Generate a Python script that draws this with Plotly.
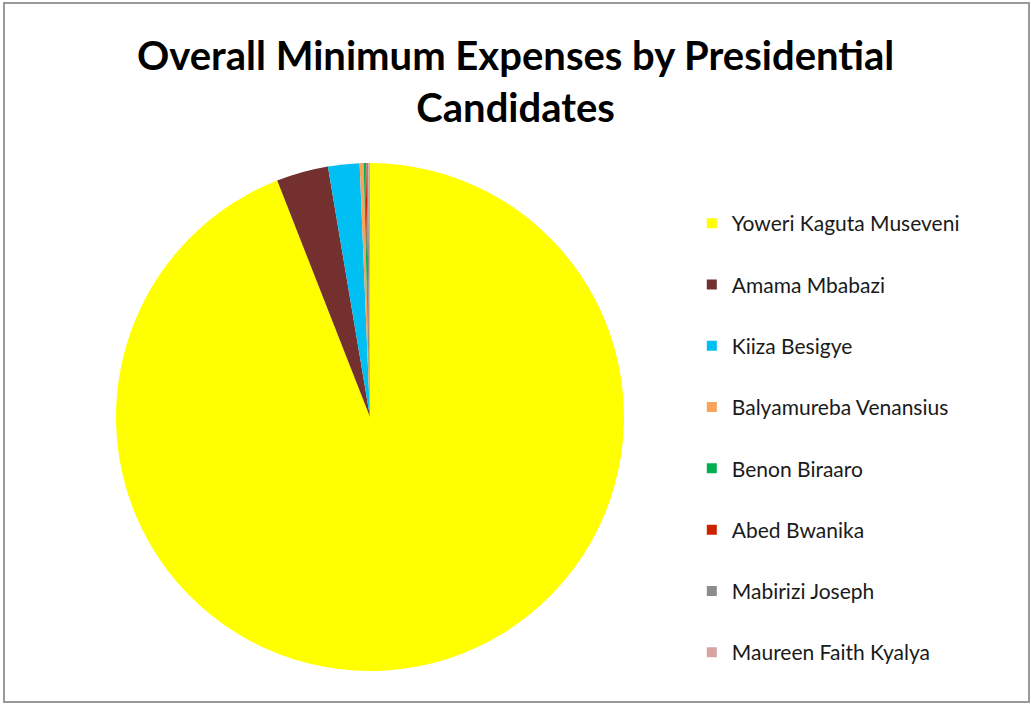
import plotly.graph_objects as go

candidates = ["Yoweri Kaguta Museveni", "Amama Mbabazi", "Kiiza Besigye",
              "Balyamureba Venansius", "Benon Biraaro", "Abed Bwanika",
              "Mabirizi Joseph", "Maureen Faith Kyalya"]
# approximate share of overall minimum expenses (%)
expenses = [94.05, 3.30, 2.00, 0.25, 0.10, 0.08, 0.12, 0.10]
colors = ["#FFFF00", "#74302F", "#00BFF3", "#F9A25A", "#00B050",
          "#CC2200", "#8C8C8C", "#D9A3A3"]
title_text = "Overall Minimum Expenses by Presidential<br>Candidates"

fig = go.Figure()
fig.add_trace(go.Pie(
    labels=candidates, values=expenses, sort=False, direction="clockwise",
    rotation=0, textinfo="none", hoverinfo="label+value",
    marker=dict(colors=colors, line=dict(width=0)),
    showlegend=False,
    domain=dict(x=[(370-254)/1031, (370+254)/1031], y=[33/704, 541/704]),
))
for name, col in zip(candidates, colors):
    fig.add_trace(go.Scatter(
        x=[None], y=[None], mode="markers", name=name, legendgroup=name,
        marker=dict(symbol="square", size=10, color=col),
    ))

fig.update_layout(
    width=1031, height=704,
    margin=dict(l=0, r=0, t=0, b=0),
    paper_bgcolor="white", plot_bgcolor="white",
    xaxis=dict(visible=False), yaxis=dict(visible=False),
    annotations=[dict(text=title_text, xref="paper", yref="paper",
                      x=0.5, xanchor="center", y=1 - 29/704, yanchor="top",
                      showarrow=False, align="center",
                      font=dict(family="Lato", size=40, color="black", weight="bold"))],
    legend=dict(x=0.671, xanchor="left", y=1 - 203/704, yanchor="top",
                font=dict(family="Lato", size=21, color="#1a1a1a"),
                tracegroupgap=31, itemwidth=30, bgcolor="rgba(0,0,0,0)"),
    shapes=[dict(type="rect", xref="paper", yref="paper",
                 x0=4/1031, x1=1029/1031, y0=1 - 702/704, y1=1 - 3/704,
                 line=dict(color="#9a9a9a", width=2))],
)
fig.write_html("out.html")
